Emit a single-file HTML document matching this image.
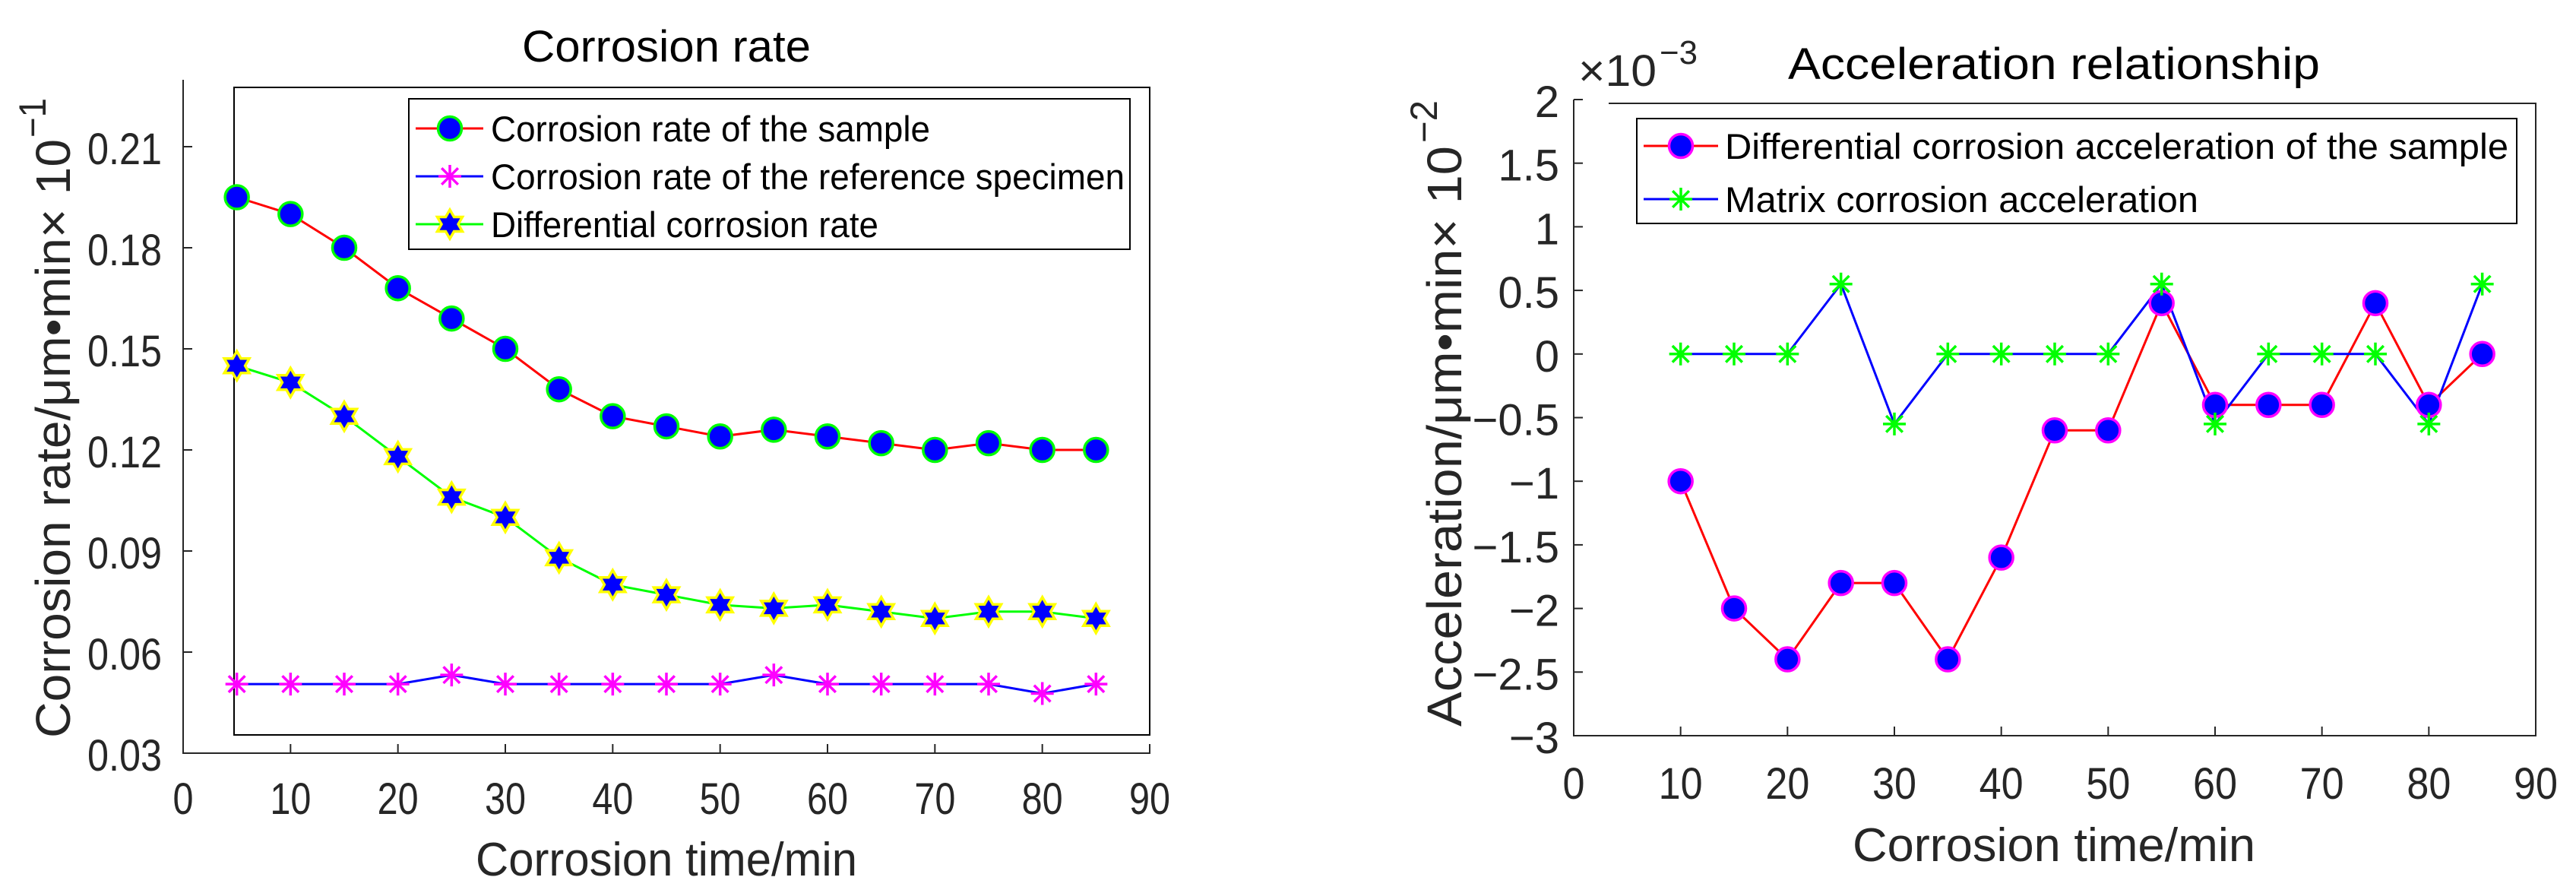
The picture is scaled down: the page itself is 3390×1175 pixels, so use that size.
<!DOCTYPE html>
<html><head><meta charset="utf-8">
<style>
html,body{margin:0;padding:0;background:#fff;}
svg{display:block;font-family:"Liberation Sans",sans-serif;}
</style></head>
<body>
<svg id="fig" width="3390" height="1175" viewBox="0 0 3390 1175" xmlns="http://www.w3.org/2000/svg">
<rect x="0" y="0" width="3390" height="1175" fill="#fff"/>
<g id="left"></g>
<g id="right"></g>
</svg>
<script>
// ---- Left chart data ----
const leftTimes = [5,10,15,20,25,30,35,40,45,50,55,60,65,70,75,80,85];
const sampleRate = [0.195,0.190,0.180,0.168,0.159,0.150,0.138,0.130,0.127,0.124,0.126,0.124,0.122,0.120,0.122,0.120,0.120];
const referenceRate = [0.0505,0.0505,0.0505,0.0505,0.0532,0.0505,0.0505,0.0505,0.0505,0.0505,0.0532,0.0505,0.0505,0.0505,0.0505,0.0477,0.0505];
const differentialRate = [0.145,0.140,0.130,0.118,0.106,0.100,0.088,0.080,0.077,0.074,0.073,0.074,0.072,0.070,0.072,0.072,0.070];
const leftXTicks = [0,10,20,30,40,50,60,70,80,90];
const leftYTicks = [0.03,0.06,0.09,0.12,0.15,0.18,0.21];
const leftYTickLabels = ["0.03","0.06","0.09","0.12","0.15","0.18","0.21"];
// ---- Right chart data ----
const rightTimes = [10,15,20,25,30,35,40,45,50,55,60,65,70,75,80,85];
const diffAccel = [-1,-2,-2.4,-1.8,-1.8,-2.4,-1.6,-0.6,-0.6,0.4,-0.4,-0.4,-0.4,0.4,-0.4,0];
const matrixAccel = [0,0,0,0.55,-0.55,0,0,0,0,0.55,-0.55,0,0,0,-0.55,0.55];
const rightXTicks = [0,10,20,30,40,50,60,70,80,90];
const rightYTicks = [-3,-2.5,-2,-1.5,-1,-0.5,0,0.5,1,1.5,2];
const rightYTickLabels = ["\u22123","\u22122.5","\u22122","\u22121.5","\u22121","\u22120.5","0","0.5","1","1.5","2"];

const NS = "http://www.w3.org/2000/svg";
function mk(parent, tag, attrs){
  const e = document.createElementNS(NS, tag);
  for (const k in attrs) e.setAttribute(k, attrs[k]);
  parent.appendChild(e);
  return e;
}
function txt(parent, s, x, y, size, anchor, len, color){
  const t = mk(parent, "text", {x:x, y:y, "font-size":size, "text-anchor":anchor||"start", fill:color||"#000"});
  if (len){ t.setAttribute("textLength", len); t.setAttribute("lengthAdjust","spacingAndGlyphs"); }
  t.textContent = s;
  return t;
}
function circleMarker(g, x, y, fill, stroke){
  return mk(g, "circle", {cx:x, cy:y, r:15.5, fill:fill, stroke:stroke, "stroke-width":3.5});
}
function asterisk(g, x, y, color, s){
  return mk(g, "path", {d:`M${x-s} ${y}H${x+s}M${x} ${y-s}V${y+s}M${x-s*0.72} ${y-s*0.72}L${x+s*0.72} ${y+s*0.72}M${x-s*0.72} ${y+s*0.72}L${x+s*0.72} ${y-s*0.72}`, stroke:color, "stroke-width":3.5, fill:"none"});
}
function hexagram(g, x, y, r){
  let d = "";
  for (let i=0;i<12;i++){
    const a = -Math.PI/2 + i*Math.PI/6;
    const rr = (i%2===0)? r : r*0.577;
    d += (i===0?"M":"L") + (x+rr*Math.cos(a)).toFixed(1) + " " + (y+rr*Math.sin(a)).toFixed(1);
  }
  return mk(g, "path", {d:d+"Z", fill:"#0000ff", stroke:"#ffff00", "stroke-width":3.5});
}
function linePath(xs, ys, fx, fy){
  return xs.map((v,i)=>(i?"L":"M")+fx(v).toFixed(1)+" "+fy(ys[i]).toFixed(1)).join("");
}
const TC = "#262626";

// ================= LEFT =================
(function(){
  const g = document.getElementById("left");
  const X0=241, X1=1513, Y0=991, Ytop=193;
  const fx = v => X0 + (v-0)/(90-0)*(X1-X0);
  const fy = v => Y0 - (v-0.03)/(0.21-0.03)*(Y0-Ytop);

  const box = mk(g,"rect",{x:308,y:115,width:X1-308,height:967-115,fill:"none",stroke:"#000","stroke-width":2});
  
  
  const axes = mk(g,"path",{d:`M${X0} 105V${Y0}H${X1}V981`,fill:"none",stroke:"#262626","stroke-width":2});
  
  

  leftXTicks.forEach(v=>{
    mk(g,"line",{x1:fx(v),y1:Y0,x2:fx(v),y2:Y0-12,stroke:"#262626","stroke-width":2});
    const t = txt(g, String(v), fx(v), 1071, 58, "middle", String(v).length*27, TC);
    
    
  });
  leftYTicks.forEach((v,i)=>{
    mk(g,"line",{x1:X0,y1:fy(v),x2:X0+12,y2:fy(v),stroke:"#262626","stroke-width":2});
    const t = txt(g, leftYTickLabels[i], 213, fy(v)+23, 58, "end", 98, TC);
    
    
  });

  const title = txt(g,"Corrosion rate",877,81,58,"middle",380);
  
  
  const xl = txt(g,"Corrosion time/min",877,1152,62,"middle",502,TC);
  
  
  const yg = mk(g,"g",{transform:"translate(92,971) rotate(-90)"});
  
  
  txt(yg,"Corrosion rate/\u03bcm\u2022min\u00d7 10",0,0,64,"start",788,TC);
  txt(yg,"\u22121",790,-32,50,"start",52,TC);

  const s1 = mk(g,"path",{d:linePath(leftTimes,sampleRate,fx,fy),fill:"none",stroke:"#ff0000","stroke-width":3});
  
  
  const s2 = mk(g,"path",{d:linePath(leftTimes,referenceRate,fx,fy),fill:"none",stroke:"#0000ff","stroke-width":3});
  
  
  const s3 = mk(g,"path",{d:linePath(leftTimes,differentialRate,fx,fy),fill:"none",stroke:"#00ff00","stroke-width":3});
  
  
  leftTimes.forEach((t,i)=>{
    const a = circleMarker(g,fx(t),fy(sampleRate[i]),"#0000ff","#00ff00");
    
    
    const b = asterisk(g,fx(t),fy(referenceRate[i]),"#ff00ff",15);
    
    
    const c = hexagram(g,fx(t),fy(differentialRate[i]),19);
    
    
  });

  const lg = mk(g,"g",{});
  
  
  mk(lg,"rect",{x:538,y:130,width:949,height:198,fill:"#fff",stroke:"#000","stroke-width":2});
  const rows=[169,232,295];
  mk(lg,"line",{x1:547,y1:rows[0],x2:636,y2:rows[0],stroke:"#ff0000","stroke-width":3});
  circleMarker(lg,592,rows[0],"#0000ff","#00ff00");
  mk(lg,"line",{x1:547,y1:rows[1],x2:636,y2:rows[1],stroke:"#0000ff","stroke-width":3});
  asterisk(lg,592,rows[1],"#ff00ff",15);
  mk(lg,"line",{x1:547,y1:rows[2],x2:636,y2:rows[2],stroke:"#00ff00","stroke-width":3});
  hexagram(lg,592,rows[2],19);
  const l1=txt(lg,"Corrosion rate of the sample",646,rows[0]+17,47,"start",578);
  
  
  const l2=txt(lg,"Corrosion rate of the reference specimen",646,rows[1]+17,47,"start",834);
  
  
  const l3=txt(lg,"Differential corrosion rate",646,rows[2]+17,47,"start",510);
  
  
})();

// ================= RIGHT =================
(function(){
  const g = document.getElementById("right");
  const X0=2071, X1=3337, Y0=968, Ytop=131;
  const fx = v => X0 + (v-0)/(90-0)*(X1-X0);
  const fy = v => Y0 - (v-(-3))/(2-(-3))*(Y0-Ytop);

  const axes = mk(g,"path",{d:`M${X0} ${Ytop}V${Y0}H${X1}V136H2117`,fill:"none",stroke:"#262626","stroke-width":2});
  
  
  rightXTicks.forEach(v=>{
    mk(g,"line",{x1:fx(v),y1:Y0,x2:fx(v),y2:Y0-12,stroke:"#262626","stroke-width":2});
    const t = txt(g, String(v), fx(v), 1051, 58, "middle", String(v).length*29, TC);
    
    
  });
  rightYTicks.forEach((v,i)=>{
    mk(g,"line",{x1:X0,y1:fy(v),x2:X0+12,y2:fy(v),stroke:"#262626","stroke-width":2});
    const lab = rightYTickLabels[i];
    const t = txt(g, lab, 2052, fy(v)+23, 58, "end", null, TC);
    
    
  });
  const ex = mk(g,"g",{});
  
  
  txt(ex,"\u00d710",2077,113,58,"start",103,TC);
  txt(ex,"\u22123",2184,84,44,"start",50,TC);

  const title = txt(g,"Acceleration relationship",2703,104,58,"middle",700);
  
  
  const xl = txt(g,"Corrosion time/min",2703,1133,62,"middle",530,TC);
  
  
  const yg = mk(g,"g",{transform:"translate(1923,956) rotate(-90)"});
  
  
  txt(yg,"Acceleration/\u03bcm\u2022min\u00d7 10",0,0,64,"start",764,TC);
  txt(yg,"\u22122",768,-32,50,"start",56,TC);

  const s1 = mk(g,"path",{d:linePath(rightTimes,diffAccel,fx,fy),fill:"none",stroke:"#ff0000","stroke-width":3});
  
  
  const s2 = mk(g,"path",{d:linePath(rightTimes,matrixAccel,fx,fy),fill:"none",stroke:"#0000ff","stroke-width":3});
  
  
  rightTimes.forEach((t,i)=>{
    const a = circleMarker(g,fx(t),fy(diffAccel[i]),"#0000ff","#ff00ff");
    
    
  });
  rightTimes.forEach((t,i)=>{
    const b = asterisk(g,fx(t),fy(matrixAccel[i]),"#00ff00",15);
    
    
  });

  const lg = mk(g,"g",{});
  
  
  mk(lg,"rect",{x:2154,y:156,width:1158,height:138,fill:"#fff",stroke:"#000","stroke-width":2});
  const rows=[192,262];
  mk(lg,"line",{x1:2163,y1:rows[0],x2:2261,y2:rows[0],stroke:"#ff0000","stroke-width":3});
  circleMarker(lg,2212,rows[0],"#0000ff","#ff00ff");
  mk(lg,"line",{x1:2163,y1:rows[1],x2:2261,y2:rows[1],stroke:"#0000ff","stroke-width":3});
  asterisk(lg,2212,rows[1],"#00ff00",15);
  const l1=txt(lg,"Differential corrosion acceleration of the sample",2270,rows[0]+17,47,"start",1031);
  
  
  const l2=txt(lg,"Matrix corrosion acceleration",2270,rows[1]+17,47,"start",623);
  
  
})();
</script>
</body></html>
